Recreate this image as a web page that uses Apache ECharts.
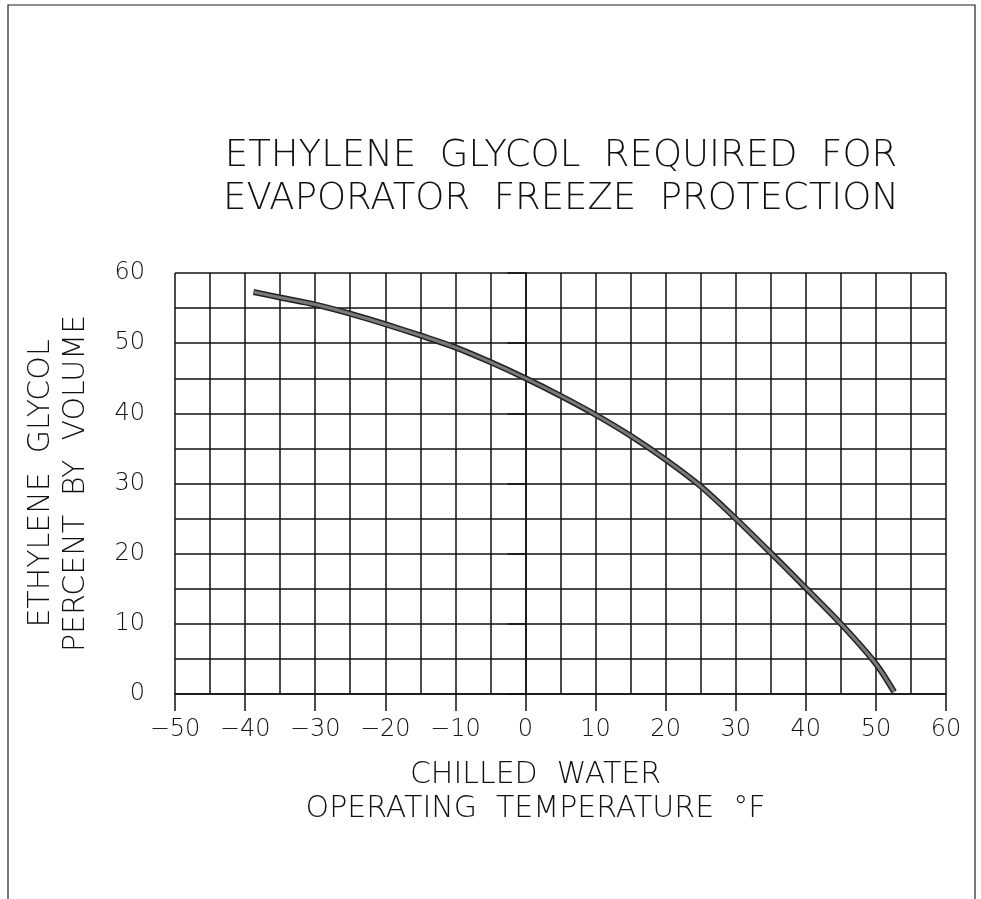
<!DOCTYPE html>
<html>
<head>
<meta charset="utf-8">
<script src="https://cdn.jsdelivr.net/npm/echarts@6/dist/echarts.min.js"></script>
<style>
html, body { margin: 0; padding: 0; background: #fff; }
#chart { width: 981px; height: 899px; }
</style>
</head>
<body>
<div id="chart"></div>
<script>
// chilled water temperature (deg F) and glycol percent
var tempF = [-38.8, -35, -30, -25, -20, -15, -10, -5, 0, 5, 10, 15, 20, 25, 30, 35, 40, 45, 50, 52.6];
var glycolPct = [57.3, 56.5, 55.5, 54.2, 52.7, 51.1, 49.4, 47.3, 45.0, 42.5, 39.8, 36.8, 33.4, 29.6, 25.0, 20.1, 15.1, 10.0, 4.3, 0.3];

// the drawing uses wide word gaps, so words are joined with two spaces
var titleLines = ['ETHYLENE  GLYCOL  REQUIRED  FOR', 'EVAPORATOR  FREEZE  PROTECTION'];
var xNameLines = ['CHILLED  WATER', 'OPERATING  TEMPERATURE  °F'];
var yNameLines = ['ETHYLENE  GLYCOL', 'PERCENT  BY  VOLUME'];

var font = 'DejaVu Sans';
var ink = '#111';

var curve = [];
for (var i = 0; i < tempF.length; i++) {
    curve.push([tempF[i], glycolPct[i]]);
}

var chart = echarts.init(document.getElementById('chart'));
var option = {
    backgroundColor: '#fff',
    animation: false,
    title: {
        text: titleLines.join('\n'),
        left: 556,
        top: 130,
        textAlign: 'center',
        textStyle: {
            fontFamily: font,
            fontWeight: 200,
            fontSize: 37,
            lineHeight: 43,
            color: ink
        }
    },
    graphic: [
        {
            type: 'polyline',
            shape: { points: [[8, 899], [8, 5], [975, 5], [975, 899]] },
            style: { stroke: '#222', lineWidth: 1.2, fill: null }
        }
    ],
    grid: {
        left: 175,
        top: 273,
        width: 771,
        height: 421
    },
    xAxis: {
        type: 'value',
        min: -50,
        max: 60,
        interval: 10,
        name: xNameLines.join('\n'),
        nameLocation: 'middle',
        nameGap: 64,
        nameTextStyle: {
            fontFamily: font,
            fontWeight: 200,
            fontSize: 30,
            lineHeight: 34,
            color: ink,
            padding: [0, 50, 0, 0]
        },
        axisLine: { show: true, onZero: false, lineStyle: { color: ink, width: 1.5 } },
        axisTick: { show: true, length: 17, lineStyle: { color: ink, width: 1.5 } },
        axisLabel: {
            margin: 24,
            fontFamily: font,
            fontWeight: 200,
            fontSize: 24,
            color: ink,
            formatter: function (v) {
                return v < 0 ? '\u2212' + Math.abs(v) : String(v);
            }
        },
        splitLine: { show: true, lineStyle: { color: ink, width: 1.5 } },
        minorTick: { show: false, splitNumber: 2 },
        minorSplitLine: { show: true, lineStyle: { color: ink, width: 1.5 } }
    },
    yAxis: {
        type: 'value',
        min: 0,
        max: 60,
        interval: 10,
        name: yNameLines.join('\n'),
        nameLocation: 'middle',
        nameGap: 81,
        nameTextStyle: {
            fontFamily: font,
            fontWeight: 200,
            fontSize: 30,
            lineHeight: 35,
            color: ink
        },
        axisLine: { show: true, lineStyle: { color: ink, width: 1.5 } },
        axisTick: { show: true, length: 18, lineStyle: { color: ink, width: 1.5 } },
        axisLabel: {
            margin: 30,
            fontFamily: font,
            fontWeight: 200,
            fontSize: 24,
            color: ink
        },
        splitLine: { show: true, lineStyle: { color: ink, width: 1.5 } },
        minorTick: { show: false, splitNumber: 2 },
        minorSplitLine: { show: true, lineStyle: { color: ink, width: 1.5 } }
    },
    series: [
        {
            name: 'outline',
            type: 'line',
            data: curve,
            smooth: 0.3,
            showSymbol: false,
            lineStyle: { color: '#222', width: 6, cap: 'butt' },
            z: 3
        },
        {
            name: 'fill',
            type: 'line',
            data: curve,
            smooth: 0.3,
            showSymbol: false,
            lineStyle: { color: '#7a7a7a', width: 3, cap: 'butt' },
            z: 4
        }
    ]
};
chart.setOption(option);
</script>
</body>
</html>
